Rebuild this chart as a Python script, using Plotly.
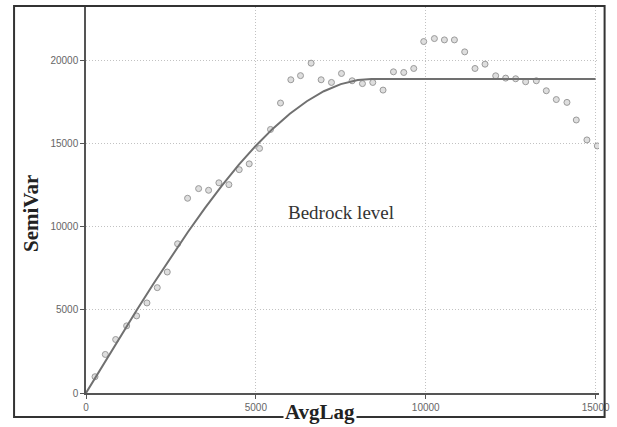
import plotly.graph_objects as go

avg_lag = [265, 568, 873, 1196, 1490, 1794, 2098, 2392, 2696, 2990,
           3315, 3608, 3912, 4206, 4510, 4804, 5108, 5431, 5725, 6029,
           6314, 6627, 6921, 7225, 7520, 7833, 8137, 8441, 8744, 9050,
           9353, 9647, 9941, 10255, 10550, 10844, 11147, 11450, 11745, 12059,
           12353, 12647, 12941, 13255, 13549, 13843, 14157, 14431, 14744, 15050]
semi_var = [980, 2320, 3220, 4040, 4640, 5420, 6340, 7280, 8980, 11720,
            12300, 12200, 12650, 12540, 13440, 13790, 14720, 15860, 17450, 18850,
            19100, 19850, 18850, 18690, 19230, 18790, 18620, 18690, 18230, 19330,
            19290, 19530, 21150, 21330, 21250, 21250, 20530, 19530, 19790, 19090,
            18950, 18910, 18730, 18790, 18190, 17660, 17490, 16430, 15230, 14870]

# Fitted model curve
model_lag = [0, 500, 1000, 1500, 2000, 2500, 3000, 3500, 4000, 4500, 5000,
             5500, 6000, 6500, 7000, 7500, 8000, 8400, 15000]
model_var = [0, 1690, 3360, 5010, 6620, 8190, 9690, 11130, 12480, 13740, 14880,
             15910, 16810, 17560, 18160, 18590, 18840, 18900, 18900]

x_ticks = [0, 5000, 10000, 15000]
y_ticks = [0, 5000, 10000, 15000, 20000]

W, H = 617, 427
L, R, T, B = 86, 17.6, 7, 34
pw = W - L - R
ph = H - T - B

fig = go.Figure()
fig.add_trace(go.Scatter(
    x=avg_lag, y=semi_var, mode="markers",
    marker=dict(symbol="circle", size=6, color="#dedede",
                line=dict(color="#9a9a9a", width=1)),
    showlegend=False, hoverinfo="skip"))
fig.add_trace(go.Scatter(
    x=model_lag, y=model_var, mode="lines",
    line=dict(color="#707070", width=2), showlegend=False, hoverinfo="skip"))

tick_font = dict(family="Liberation Sans Narrow, Liberation Sans, sans-serif",
                 size=10, color="#666666")
axis_common = dict(showgrid=True, gridcolor="#c2c2c2", griddash="1px,2px", gridwidth=1,
                   showline=True, linecolor="#555555", linewidth=1.5,
                   ticks="outside", ticklen=4, tickcolor="#555555",
                   tickfont=tick_font, zeroline=False)
fig.update_xaxes(range=[0, 15100], tickvals=x_ticks, ticktext=[str(v) for v in x_ticks],
                 **axis_common)
fig.update_yaxes(range=[0, 23230], tickvals=y_ticks, ticktext=[str(v) for v in y_ticks],
                 **axis_common)

def px_x(p):
    return (p - L) / pw

def px_y(p):
    return (H - B - p) / ph

# Outer frame
fig.add_shape(type="rect", xref="paper", yref="paper",
              x0=px_x(14), x1=px_x(605), y0=px_y(417), y1=px_y(6),
              line=dict(color="#333333", width=2), fillcolor="rgba(0,0,0,0)")

title_font = dict(family="Liberation Serif, Times New Roman, serif", size=21, color="#222222")
fig.add_annotation(x=px_x(31), y=px_y(214), xref="paper", yref="paper",
                   text="<b>SemiVar</b>", textangle=-90, showarrow=False,
                   font=title_font, xanchor="center", yanchor="middle")
fig.add_annotation(x=px_x(320), y=px_y(412), xref="paper", yref="paper",
                   text="<b>AvgLag</b>", showarrow=False, bgcolor="white",
                   font=title_font, xanchor="center", yanchor="middle")
fig.add_annotation(x=px_x(341), y=px_y(212), xref="paper", yref="paper",
                   text="Bedrock level", showarrow=False,
                   font=dict(family="Liberation Serif, Times New Roman, serif", size=19, color="#333333"),
                   xanchor="center", yanchor="middle")

fig.update_layout(width=W, height=H, margin=dict(l=L, r=R, t=T, b=B, pad=0),
                  paper_bgcolor="white", plot_bgcolor="white")
fig.write_html("out.html")
